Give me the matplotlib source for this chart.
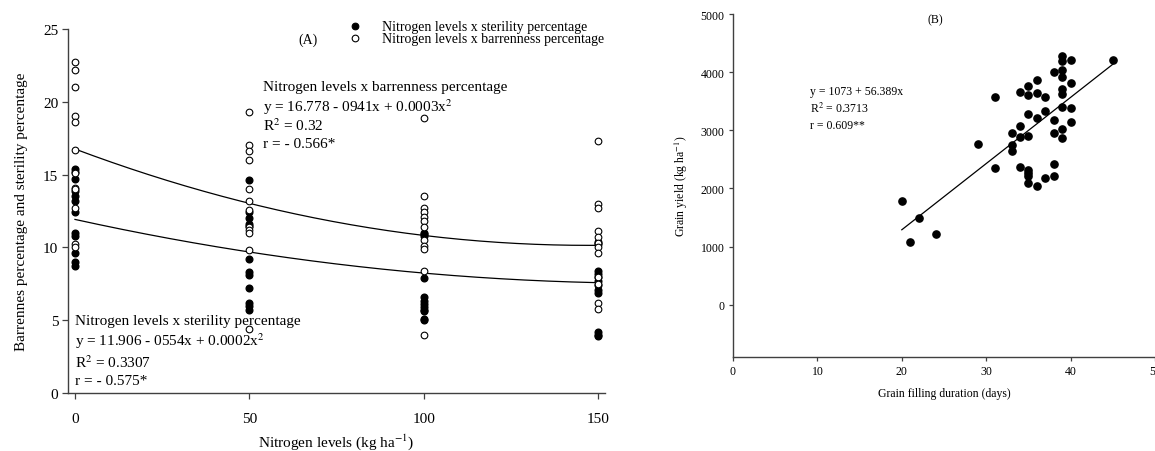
import numpy as np
import matplotlib.pyplot as plt
from matplotlib.lines import Line2D

plt.rcParams['font.family'] = ['Liberation Serif', 'DejaVu Serif']
plt.rcParams['mathtext.fontset'] = 'stix'

# ---- panel A data: nitrogen levels vs sterility / barrenness (%)
n_levels = [0, 50, 100, 150]
sterility = [
    [15.4, 15.2, 14.7, 13.9, 13.5, 13.2, 12.4, 11.0, 10.8, 9.6, 9.0, 8.7],
    [14.6, 12.4, 12.0, 11.6, 11.5, 9.2, 8.3, 8.1, 7.2, 6.2, 6.0, 5.7],
    [11.0, 10.9, 10.8, 7.9, 6.6, 6.3, 6.1, 5.9, 5.7, 5.6, 5.1, 5.0],
    [10.4, 10.2, 8.4, 8.2, 8.0, 7.7, 7.4, 7.1, 6.9, 4.2, 4.0, 3.9],
]
barrenness = [
    [22.7, 22.2, 21.0, 19.0, 18.6, 16.7, 15.1, 14.1, 14.0, 12.7, 10.2, 10.0],
    [19.3, 17.0, 16.6, 16.0, 14.0, 13.2, 12.6, 11.4, 11.2, 11.0, 9.8, 4.4],
    [18.9, 13.5, 12.7, 12.4, 12.1, 11.8, 11.4, 10.5, 10.1, 9.9, 8.4, 4.0],
    [17.3, 13.0, 12.7, 11.1, 10.7, 10.3, 10.0, 9.6, 8.0, 7.5, 6.2, 5.8],
]
# heights of the drawn fitted curves at each level
barren_curve = [16.75, 13.05, 10.8, 10.15]
steril_curve = [11.9, 9.75, 8.17, 7.6]

# ---- panel B data: grain filling duration (days) vs grain yield
gfd_days = [20, 21, 22, 24, 29, 31, 31, 33, 33, 33, 34, 34, 34, 34,
            35, 35, 35, 35, 35, 35, 35, 35, 36, 36, 36, 36, 37, 37, 37,
            38, 38, 38, 38, 38, 39, 39, 39, 39, 39, 39, 39, 39, 39,
            40, 40, 40, 40, 45]
grain_yield = [1780, 1075, 1490, 1215, 2770, 3575, 2355, 2960, 2755, 2640,
               3665, 3070, 2885, 2375, 3770, 3600, 3275, 2910, 2325, 2265,
               2205, 2090, 3860, 3645, 3210, 2045, 3570, 3330, 2180,
               4010, 3180, 2950, 2415, 2215, 4270, 4185, 4030, 3910, 3705,
               3625, 3395, 3030, 2870, 4210, 3815, 3380, 3140, 4210]

W, H = 1155, 452
fig = plt.figure(figsize=(W / 100, H / 100), dpi=100)


def box(l, t, r, b):
    return [l / W, 1 - b / H, (r - l) / W, (b - t) / H]


def fx(px):
    return px / W


def fy(py):
    return 1 - py / H


def style(ax, size, pad, length):
    for s in ['top', 'right']:
        ax.spines[s].set_visible(False)
    for s in ['left', 'bottom']:
        ax.spines[s].set_color('#404040')
        ax.spines[s].set_linewidth(1.0)
    ax.tick_params(direction='out', length=length, width=0.9, color='#404040',
                   labelsize=size)
    ax.tick_params(axis='y', pad=3)
    ax.tick_params(axis='x', pad=pad)


# ---- (A)
ax1 = fig.add_axes(box(68, 30, 605, 394))
for i, lev in enumerate(n_levels):
    ax1.plot([lev] * len(sterility[i]), sterility[i], 'o', color='black',
             markersize=4.8, clip_on=False, zorder=3)
    ax1.plot([lev] * len(barrenness[i]), barrenness[i], 'o', mfc='white',
             mec='black', mew=0.8, markersize=4.8, clip_on=False, zorder=4)

xs = np.linspace(0, 150, 200)
cb = np.polyfit(n_levels, barren_curve, 2)
cs = np.polyfit(n_levels, steril_curve, 2)
ax1.plot(xs, np.polyval(cb, xs), color='black', lw=0.9, zorder=2)
ax1.plot(xs, np.polyval(cs, xs), color='black', lw=0.9, zorder=2)

ax1.set_xlim(-2, 152)
ax1.set_ylim(0, 25)
ax1.set_xticks(n_levels)
ax1.set_yticks([0, 5, 10, 15, 20, 25])
style(ax1, 11, 10, 4)
ax1.set_ylabel('Barrennes percentage and sterility percentage', fontsize=11,
               labelpad=11)
ax1.set_xlabel('Nitrogen levels (kg ha$^{-1}$)', fontsize=11, labelpad=4)

fig.text(fx(308), fy(40), '(A)', fontsize=10, ha='center', va='center')
for yy, filled, lab in [(27, True, 'Nitrogen levels x sterility percentage'),
                        (39, False, 'Nitrogen levels x barrenness percentage')]:
    fig.add_artist(Line2D([fx(355)], [fy(yy)], marker='o', ls='none',
                          markersize=4.8, mec='black', mew=0.8,
                          mfc='black' if filled else 'white'))
    fig.text(fx(382), fy(yy), lab, fontsize=10, va='center')

blk1 = ['Nitrogen levels x barrenness percentage',
        'y = 16.778 - 0941x + 0.0003x$^2$',
        'R$^2$ = 0.32',
        'r = - 0.566*']
for yy, t in zip([87, 107, 126, 144], blk1):
    fig.text(fx(263), fy(yy), t, fontsize=11, va='center')

blk2 = ['Nitrogen levels x sterility percentage',
        'y = 11.906 - 0554x + 0.0002x$^2$',
        'R$^2$ = 0.3307',
        'r = - 0.575*']
for yy, t in zip([321, 341, 363, 382], blk2):
    fig.text(fx(75), fy(yy), t, fontsize=11, va='center')

# ---- (B)
ax2 = fig.add_axes(box(733, 15, 1155, 358))
ax2.plot(gfd_days, grain_yield, 'o', color='black', markersize=5.2,
         clip_on=False, zorder=3)
k = np.polyfit(gfd_days, grain_yield, 1)
lx = np.array([min(gfd_days), max(gfd_days)])
ax2.plot(lx, np.polyval(k, lx), color='black', lw=0.9, zorder=2)
ax2.set_xlim(0, 50)
ax2.set_ylim(-900, 5000)
ax2.set_xticks([0, 10, 20, 30, 40, 50])
ax2.set_yticks([0, 1000, 2000, 3000, 4000, 5000])
style(ax2, 8.5, 3, 3)
ax2.set_ylabel('Grain yield (kg ha$^{-1}$)', fontsize=8.5, labelpad=8)
ax2.set_xlabel('Grain filling duration (days)', fontsize=8.5, labelpad=7)

fig.text(fx(935), fy(20), '(B)', fontsize=8.5, ha='center', va='center')
for yy, t in zip([92, 109, 126], ['y = 1073 + 56.389x', 'R$^2$ = 0.3713',
                                   'r = 0.609**']):
    fig.text(fx(810), fy(yy), t, fontsize=8.5, va='center')

fig.savefig('out.png', dpi=100)
